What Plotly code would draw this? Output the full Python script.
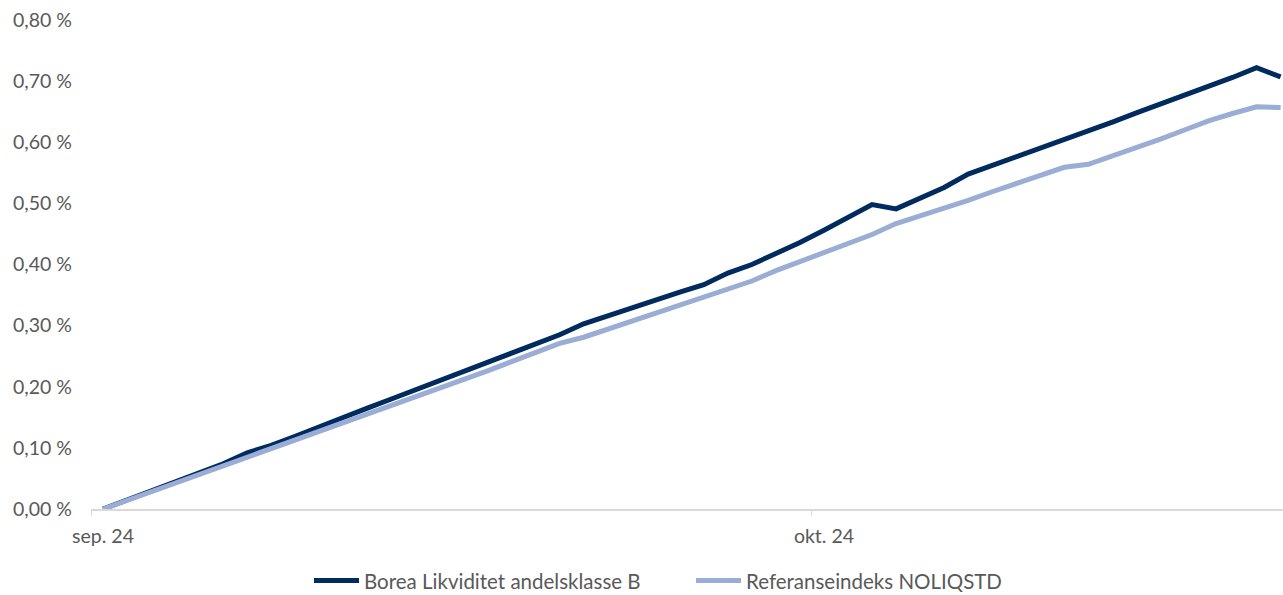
import datetime as dt
import plotly.graph_objects as go

start = dt.date(2024, 9, 1)
n_days = 50
dates = [start + dt.timedelta(days=i) for i in range(n_days)]

fund_name = "Borea Likviditet andelsklasse B"
index_name = "Referanseindeks NOLIQSTD"

fund = [0.000, 0.015, 0.030, 0.045, 0.060, 0.074, 0.092, 0.104, 0.119, 0.135,
        0.150, 0.165, 0.180, 0.195, 0.211, 0.226, 0.241, 0.256, 0.270, 0.285,
        0.303, 0.316, 0.331, 0.343, 0.355, 0.367, 0.386, 0.400, 0.417, 0.436,
        0.456, 0.477, 0.498, 0.491, 0.509, 0.526, 0.548, 0.562, 0.576, 0.590,
        0.603, 0.617, 0.633, 0.648, 0.662, 0.676, 0.690, 0.706, 0.722, 0.707]

index = [0.000, 0.014, 0.028, 0.042, 0.056, 0.070, 0.085, 0.098, 0.112, 0.126,
         0.140, 0.154, 0.170, 0.183, 0.197, 0.212, 0.226, 0.241, 0.255, 0.271,
         0.281, 0.294, 0.307, 0.320, 0.333, 0.345, 0.358, 0.373, 0.390, 0.405,
         0.419, 0.434, 0.449, 0.467, 0.479, 0.491, 0.505, 0.519, 0.533, 0.547,
         0.559, 0.564, 0.577, 0.591, 0.605, 0.620, 0.635, 0.647, 0.658, 0.657]

y_ticks = [0.0, 0.1, 0.2, 0.3, 0.4, 0.5, 0.6, 0.7, 0.8]
y_tick_labels = ["0,00 %", "0,10 %", "0,20 %", "0,30 %", "0,40 %",
                 "0,50 %", "0,60 %", "0,70 %", "0,80 %"]
x_tick_labels = ["sep. 24", "okt. 24"]
x_tick_dates = ["2024-08-31 12:00", "2024-09-30 12:00"]

FONT = "Lato"
FS = 19.5
TXT = "#595959"

fig = go.Figure()
fig.add_trace(go.Scatter(x=dates, y=fund, mode="lines", name=fund_name,
                         line=dict(color="#002b5e", width=5)))
fig.add_trace(go.Scatter(x=dates, y=index, mode="lines", name=index_name,
                         line=dict(color="#9aadd4", width=5)))

fig.update_layout(
    width=1283, height=595,
    margin=dict(l=91, r=0, t=20, b=86, autoexpand=False),
    paper_bgcolor="white", plot_bgcolor="white",
    font=dict(family=FONT, size=FS, color=TXT),
    showlegend=True,
    legend=dict(orientation="h", x=309 / 1283, xanchor="left", xref="container",
                y=0.024, yanchor="middle", yref="container",
                bgcolor="rgba(0,0,0,0)",
                font=dict(family=FONT, size=20.5, color=TXT),
                itemwidth=45, entrywidth=322, entrywidthmode="pixels",
                traceorder="normal"),
)
fig.update_xaxes(
    type="date",
    range=["2024-08-31 12:00", "2024-10-20 02:24"],
    tickvals=x_tick_dates, ticktext=x_tick_labels,
    ticklabelshift=12,
    ticks="outside", ticklen=5, tickcolor="#d9d9d9", tickwidth=1,
    showline=True, linecolor="#d9d9d9", linewidth=1.5,
    showgrid=False, zeroline=False, automargin=False,
    tickfont=dict(family=FONT, size=FS, color=TXT),
    ticklabelstandoff=4,
)
fig.update_yaxes(
    range=[0, 0.8],
    tickvals=y_ticks, ticktext=y_tick_labels,
    showline=False, showgrid=False, zeroline=False, automargin=False,
    ticks="", ticklabelstandoff=18,
    tickfont=dict(family=FONT, size=FS, color=TXT),
)

fig.write_html("out.html")
